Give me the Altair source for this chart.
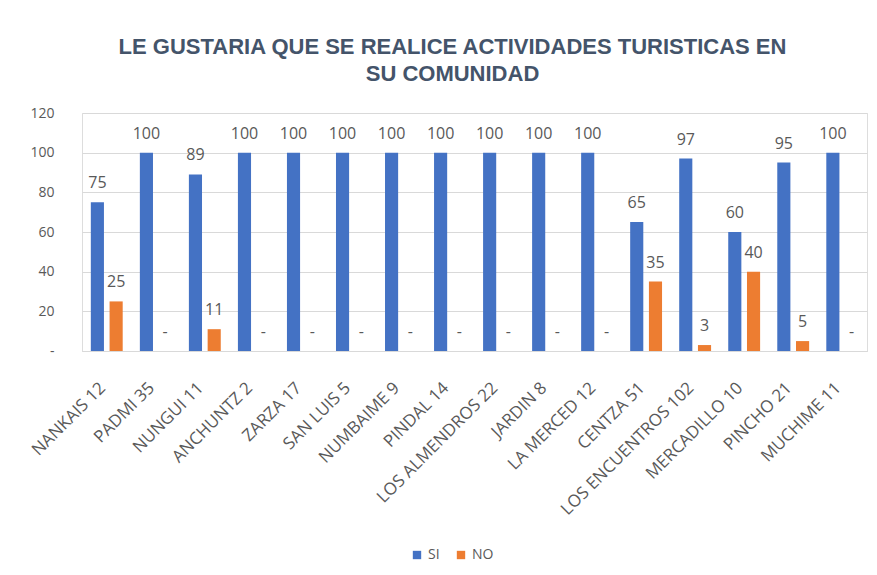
import altair as alt
import pandas as pd

categories = ["NANKAIS 12", "PADMI 35", "NUNGUI 11", "ANCHUNTZ 2", "ZARZA 17",
              "SAN LUIS 5", "NUMBAIME 9", "PINDAL 14", "LOS ALMENDROS 22", "JARDIN 8",
              "LA MERCED 12", "CENTZA 51", "LOS ENCUENTROS 102", "MERCADILLO 10",
              "PINCHO 21", "MUCHIME 11"]
si_values = [75, 100, 89, 100, 100, 100, 100, 100, 100, 100, 100, 65, 97, 60, 95, 100]
no_values = [25, 0, 11, 0, 0, 0, 0, 0, 0, 0, 0, 35, 3, 40, 5, 0]
series = ["SI", "NO"]
colors = ["#4472C4", "#ED7D31"]
y_ticks = [0, 20, 40, 60, 80, 100, 120]

rows = []
for c, s, n in zip(categories, si_values, no_values):
    rows.append({"cat": c, "serie": "SI", "val": s})
    rows.append({"cat": c, "serie": "NO", "val": n})
df = pd.DataFrame(rows)

gray = "#595959"
y_axis = alt.Axis(values=y_ticks, labelExpr="datum.value == 0 ? '-' : datum.label",
                  labelFont="Open Sans", labelFontSize=14, labelColor=gray,
                  labelPadding=28, ticks=False, domain=False, labelOverlap=False,
                  gridColor="#d9d9d9")
y_scale = alt.Scale(domain=[0, 120], nice=False)

base = alt.Chart(df).encode(
    x=alt.X("cat:N", sort=categories, title=None,
            scale=alt.Scale(paddingInner=0.35, paddingOuter=0.18),
            axis=alt.Axis(labelAngle=-45, labelAlign="right", labelBaseline="middle",
                          labelFont="Open Sans", labelFontSize=17, labelColor=gray,
                          labelPadding=34, labelOffset=-4, ticks=False, domain=True,
                          domainColor="#d9d9d9", labelLimit=300)),
    xOffset=alt.XOffset("serie:N", sort=series, scale=alt.Scale(paddingInner=0.3)),
)

bars = base.mark_bar().encode(
    y=alt.Y("val:Q", title=None, scale=y_scale, axis=y_axis),
    color=alt.Color("serie:N", sort=series,
                    scale=alt.Scale(domain=series, range=colors),
                    legend=alt.Legend(title=None, orient="none", direction="horizontal",
                                      legendX=328, legendY=435,
                                      symbolType="square", symbolSize=70,
                                      labelFont="Open Sans", labelFontSize=14,
                                      labelColor=gray, columnPadding=14)),
)

labels = base.transform_calculate(
    lab="datum.val == 0 ? '-' : format(datum.val, 'd')"
).mark_text(dy=-19, font="Open Sans", fontSize=16, color=gray).encode(
    y=alt.Y("val:Q", title=None, scale=y_scale, axis=y_axis),
    text="lab:N",
)

chart = alt.layer(bars, labels).properties(
    width=785, height=238,
    padding={"left": 20, "top": 28, "right": 2, "bottom": 5},
    title=alt.Title(["LE GUSTARIA  QUE SE REALICE ACTIVIDADES TURISTICAS EN", "SU COMUNIDAD"],
                    font="Liberation Sans", fontSize=22, fontWeight="bold",
                    color="#44546A", anchor="middle", dx=-22, offset=20, lineHeight=27),
).configure_view(stroke=None).configure(background="white")

chart.save("out.html", embed_options={"renderer": "svg", "actions": False})
